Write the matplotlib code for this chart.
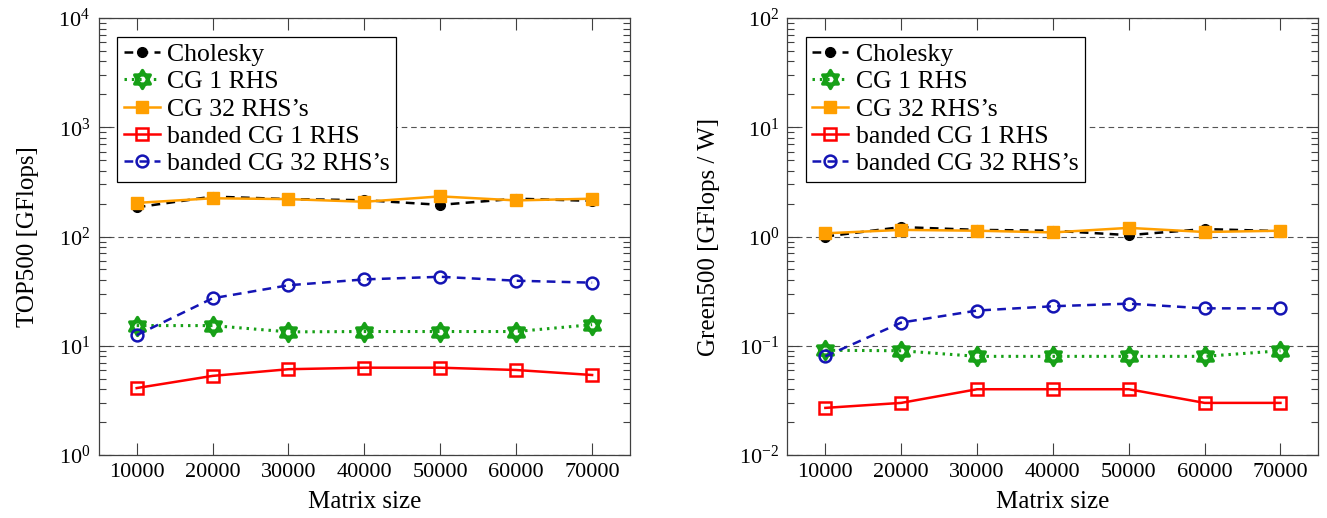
import numpy as np
import matplotlib
matplotlib.use("Agg")
import matplotlib.pyplot as plt
from matplotlib.path import Path

plt.rcParams['font.family'] = ['Liberation Serif', 'DejaVu Serif']
plt.rcParams['mathtext.fontset'] = 'stix'

# matrix sizes
sizes = [10000, 20000, 30000, 40000, 50000, 60000, 70000]

# TOP500 [GFlops]
top_cholesky = [185, 232, 220, 215, 195, 222, 212]
top_cg1 = [15.3, 15.3, 13.4, 13.5, 13.5, 13.5, 15.6]
top_cg32 = [203, 224, 220, 208, 233, 214, 222]
top_bcg1 = [4.1, 5.3, 6.1, 6.3, 6.3, 6.0, 5.4]
top_bcg32 = [12.5, 27.2, 35.8, 40.5, 42.8, 39.4, 37.8]

# Green500 [GFlops / W]
green_cholesky = [1.0, 1.22, 1.15, 1.13, 1.03, 1.17, 1.12]
green_cg1 = [0.091, 0.09, 0.08, 0.08, 0.08, 0.08, 0.09]
green_cg32 = [1.07, 1.15, 1.13, 1.09, 1.2, 1.1, 1.13]
green_bcg1 = [0.027, 0.03, 0.04, 0.04, 0.04, 0.03, 0.03]
green_bcg32 = [0.08, 0.163, 0.21, 0.23, 0.243, 0.22, 0.22]

labels = ['Cholesky', 'CG 1 RHS', "CG 32 RHS\u2019s", 'banded CG 1 RHS', "banded CG 32 RHS\u2019s"]

# six-pointed star made of two triangles
a = np.deg2rad([90, 210, 330])
b = np.deg2rad([270, 30, 150])
verts = [(np.cos(t), np.sin(t)) for t in a] + [(0, 0)] + [(np.cos(t), np.sin(t)) for t in b] + [(0, 0)]
codes = [Path.MOVETO, Path.LINETO, Path.LINETO, Path.CLOSEPOLY] * 2
hexagram = Path(verts, codes)

GREEN = '#17a017'
ORANGE = '#ff9f00'
RED = '#ff0000'
BLUE = '#1414b4'
AXC = '#404040'

fig = plt.figure(figsize=(13.27, 5.18), dpi=100)
ax1 = fig.add_axes([0.0744, 0.1216, 0.4004, 0.8436])
ax2 = fig.add_axes([0.5934, 0.1216, 0.4001, 0.8436])


def draw(ax, chol, cg1, cg32, bcg1, bcg32, ylim, ylabel):
    ax.plot(sizes, chol, color='black', ls=(0, (3.5, 2.5)), lw=1.8,
            marker='o', ms=7, label=labels[0], zorder=3)
    ax.plot(sizes, cg1, color=GREEN, ls=(0, (0.8, 1.6)), lw=2.2,
            marker=hexagram, ms=13, mfc='none', mec=GREEN, mew=2.4,
            label=labels[1], zorder=3)
    ax.plot(sizes, cg32, color=ORANGE, ls='-', lw=1.8,
            marker='s', ms=8, label=labels[2], zorder=4)
    ax.plot(sizes, bcg1, color=RED, ls='-', lw=1.8,
            marker='s', ms=8.5, mfc='none', mew=1.8, label=labels[3], zorder=3)
    ax.plot(sizes, bcg32, color=BLUE, ls=(0, (3.5, 2.5)), lw=1.8,
            marker='o', ms=8.5, mfc='none', mew=1.8, label=labels[4], zorder=3)

    ax.set_yscale('log')
    ax.set_ylim(*ylim)
    ax.set_xlim(5000, 75000)
    ax.set_xticks(sizes)
    ax.set_xticklabels([str(s) for s in sizes])
    ax.yaxis.set_major_locator(matplotlib.ticker.LogLocator(base=10, numticks=10))
    ax.yaxis.set_minor_locator(matplotlib.ticker.LogLocator(base=10, subs=np.arange(2, 10), numticks=10))
    ax.yaxis.set_minor_formatter(matplotlib.ticker.NullFormatter())
    ax.grid(True, which='major', axis='y', color='#555555', ls=(0, (5, 3.5)), lw=0.8)
    ax.tick_params(which='both', direction='in', top=True, right=True, color=AXC,
                   labelsize=16)
    ax.tick_params(which='major', length=8.5, width=0.8, pad=6)
    ax.tick_params(which='minor', length=5, width=0.8)
    for sp in ax.spines.values():
        sp.set_color(AXC)
        sp.set_linewidth(0.9)
    ax.set_xlabel('Matrix size', fontsize=18, labelpad=6)
    ax.set_ylabel(ylabel, fontsize=18, labelpad=14)
    ax.legend(loc='upper left', fontsize=18.5, frameon=True, fancybox=False,
              edgecolor='black', framealpha=1, borderaxespad=0.72,
              handlelength=1.4, handletextpad=0.3, labelspacing=0.17,
              borderpad=0.25).get_frame().set_linewidth(0.9)


draw(ax1, top_cholesky, top_cg1, top_cg32, top_bcg1, top_bcg32, (1, 1e4), 'TOP500 [GFlops]')
draw(ax2, green_cholesky, green_cg1, green_cg32, green_bcg1, green_bcg32, (1e-2, 1e2), 'Green500 [GFlops / W]')

fig.savefig('out.png', dpi=100)
